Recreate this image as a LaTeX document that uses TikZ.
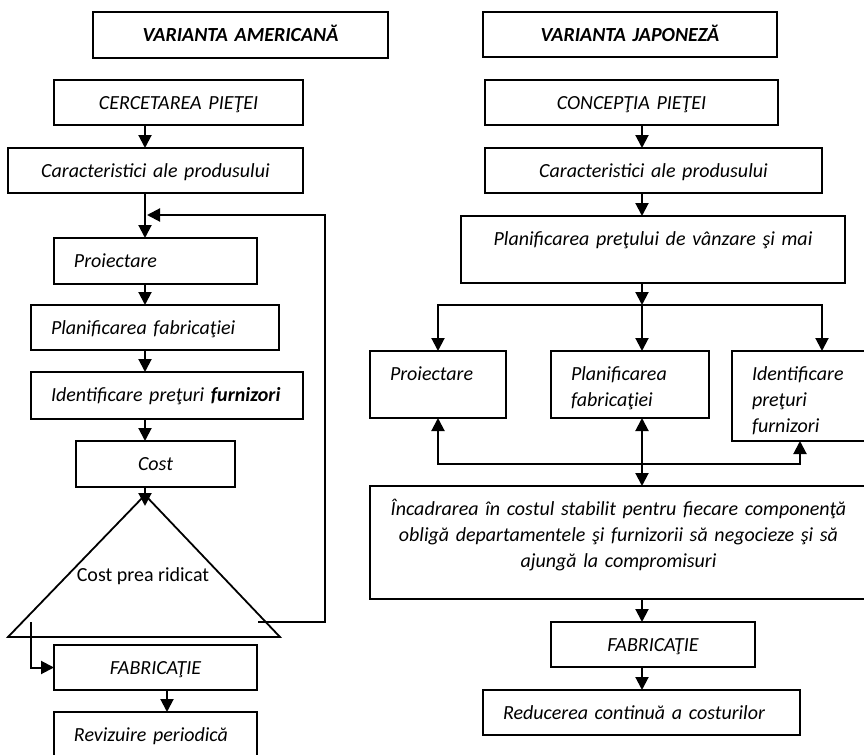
\documentclass[tikz,border=0pt]{standalone}
\usepackage{fontspec}
\setmainfont{Carlito}
\usepackage{tikz}
\usetikzlibrary{arrows.meta,calc}
\tikzstyle{box} = [draw, line width=1.3pt, rectangle, anchor=north west, outer sep=0pt, inner xsep=10pt, inner ysep=0pt, text height=14.5pt, align=center, font=\fontsize{10}{13}\selectfont\itshape]
\tikzstyle{title} = [box, font=\fontsize{10}{13}\selectfont\bfseries\itshape]
\tikzstyle{arrow} = [line width=1pt,-{Triangle[width=6.5pt,length=6.5pt]}]
\tikzstyle{twoway} = [line width=1pt,{Triangle[width=6.5pt,length=6.5pt]}-{Triangle[width=6.5pt,length=6.5pt]}]

\begin{document}
\begin{tikzpicture}[x=0.5pt, y=-0.5pt]
        \useasboundingbox (0,0) rectangle (864,755);
        % varianta americana
        \node[title, text width=127.5pt, text depth=8.5pt] (titleA) at (93,12) {VARIANTA AMERICANĂ};
        \node[box, text width=104.5pt, text depth=8pt] (cercA) at (54,80) {CERCETAREA PIEŢEI};
        \node[box, text width=127.5pt, text depth=8pt] (caracA) at (8,148) {Caracteristici ale produsului};
        \node[box, text width=81.5pt, text depth=8.5pt, align=left] (proiA) at (54,238) {Proiectare};
        \node[box, text width=104pt, text depth=8pt, align=left] (planA) at (31,305) {Planificarea fabricaţiei};
        \node[box, text width=116pt, text depth=9pt, align=left] (identA) at (31,372) {Identificare preţuri {\bfseries furnizori}};
        \node[box, text width=59.5pt, text depth=8.5pt] (costA) at (76,441) {Cost};
        \node[box, text width=81.5pt, text depth=8pt] (fabA) at (54,645) {FABRICAŢIE};
        \node[box, text width=81.5pt, text depth=8.5pt, align=left] (revA) at (54,712) {Revizuire periodică};
        \coordinate (apexA) at (145,495);
        \coordinate (baseL) at (8,637);
        \coordinate (baseR) at (280,637);
        \draw[line width=0.9pt] (apexA) -- (baseR) -- (baseL) -- cycle;
        \node[anchor=base, inner sep=0pt, font=\fontsize{10}{13}\selectfont] (highA) at (143,581) {Cost prea ridicat};
        \coordinate (axisA) at (145,0);
        \coordinate (axisB) at (167,0);
        \coordinate (costin) at (145,506);
        \coordinate (loopA) at (258,622);
        \coordinate (turnA) at (325,215);
        \coordinate (backA) at (147,215);
        \coordinate (exitA) at (31,622);
        \draw[arrow] (cercA.south -| axisA) -- (caracA.north -| axisA);
        \draw[arrow] (caracA.south -| axisA) -- (proiA.north -| axisA);
        \draw[arrow] (proiA.south -| axisA) -- (planA.north -| axisA);
        \draw[arrow] (planA.south -| axisA) -- (identA.north -| axisA);
        \draw[arrow] (identA.south -| axisA) -- (costA.north -| axisA);
        \draw[arrow] (costA.south -| axisA) -- (costin);
        \draw[arrow] (loopA) -| (turnA) -- (backA);
        \draw[arrow] (exitA) |- (fabA.west);
        \draw[arrow] (fabA.south -| axisB) -- (revA.north -| axisB);
        % varianta japoneza
        \node[title, text width=127pt, text depth=8pt] (titleJ) at (483,12) {VARIANTA JAPONEZĂ};
        \node[box, text width=126.5pt, text depth=8pt] (concJ) at (485,80) {CONCEPŢIA PIEŢEI};
        \node[box, text width=148.5pt, text depth=8pt] (caracJ) at (485,148) {Caracteristici ale produsului};
        \node[box, text width=172pt, text depth=19pt] (pretJ) at (461,216) {Planificarea preţului de vânzare şi mai};
        \node[box, text width=48pt, text depth=19pt, align=left] (proiJ) at (370,351) {Proiectare};
        \node[box, text width=59pt, text depth=19pt, align=left] (planJ) at (551,351) {Planificarea\\ fabricaţiei};
        \node[box, text width=48pt, text depth=30.5pt, align=left] (identJ) at (732,351) {Identificare\\ preţuri\\ furnizori};
        \node[box, text width=228.5pt, text depth=42pt] (incJ) at (370,486) {Încadrarea în costul stabilit pentru fiecare componenţă\\ obligă departamentele şi furnizorii să negocieze şi să\\ ajungă la compromisuri};
        \node[box, text width=82pt, text depth=8pt] (fabJ) at (551,622) {FABRICAŢIE};
        \node[box, text width=138.5pt, text depth=8pt, align=left] (redJ) at (483,690) {Reducerea continuă a costurilor};
        \coordinate (axisJ) at (642,0);
        \coordinate (topJ) at (822,0);
        \coordinate (splitJ) at (642,305);
        \coordinate (joinJ) at (642,464);
        \draw[arrow] (concJ.south -| axisJ) -- (caracJ.north -| axisJ);
        \draw[arrow] (caracJ.south -| axisJ) -- (pretJ.north -| axisJ);
        \draw[arrow] (pretJ.south -| axisJ) -- (splitJ);
        \draw[arrow] (splitJ) -- (planJ.north -| axisJ);
        \draw[arrow] (splitJ) -| (proiJ.north);
        \draw[arrow] (splitJ) -| (identJ.north -| topJ);
        \draw[twoway] (planJ.south -| axisJ) -- (incJ.north -| axisJ);
        \draw[arrow] (joinJ) -| (proiJ.south);
        \draw[arrow] (joinJ) -| (identJ.south);
        \draw[arrow] (incJ.south -| axisJ) -- (fabJ.north -| axisJ);
        \draw[arrow] (fabJ.south -| axisJ) -- (redJ.north -| axisJ);
\end{tikzpicture}
\end{document}
